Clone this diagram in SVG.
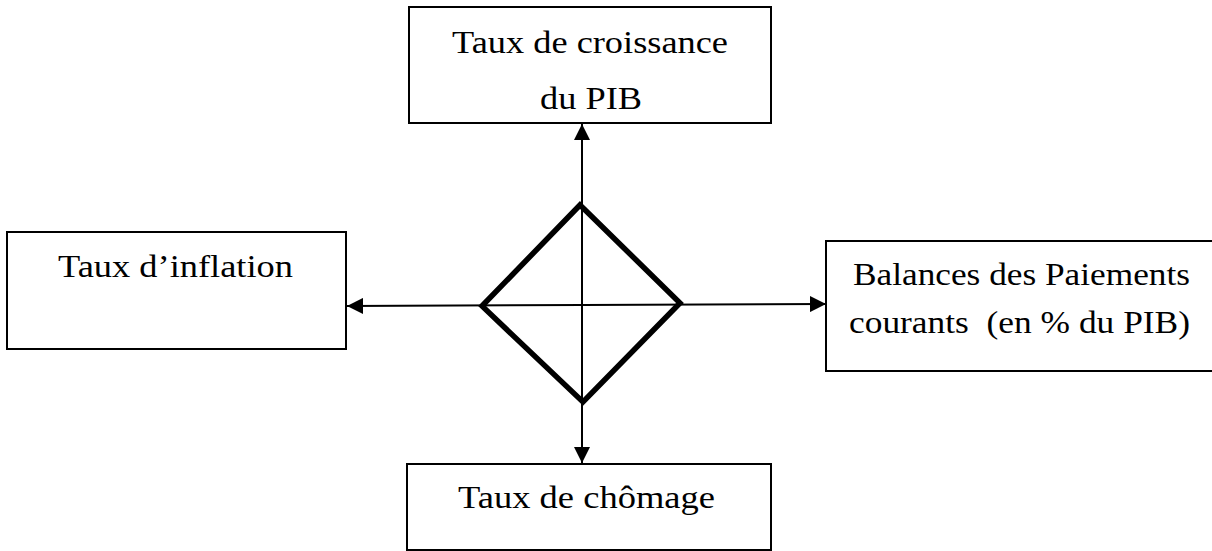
<svg xmlns="http://www.w3.org/2000/svg" width="1212" height="551" viewBox="0 0 1212 551">
  <style>
    .box { fill: #fff; stroke: #000; stroke-width: 2; }
    .lbl { font-family: "Liberation Serif", "Times New Roman", serif; font-size: 32px; fill: #000; text-anchor: middle; white-space: pre; }
    .conn { stroke: #000; stroke-width: 2; fill: none; }
    .diamond { fill: none; stroke: #000; stroke-width: 5.5; stroke-linejoin: miter; }
  </style>
  <defs>
    <marker id="arr" viewBox="0 0 16 16" refX="16" refY="8" markerWidth="16" markerHeight="16" markerUnits="userSpaceOnUse" orient="auto">
      <path d="M0,0 L16,8 L0,16 Z" fill="#000"/>
    </marker>
  </defs>
  <rect width="1212" height="551" fill="#fff"/>

  <g id="connectors">
    <line class="conn" x1="582" y1="305" x2="582" y2="124" marker-end="url(#arr)"/>
    <line class="conn" x1="582" y1="305" x2="582" y2="463" marker-end="url(#arr)"/>
    <line class="conn" x1="582" y1="305" x2="347" y2="306" marker-end="url(#arr)"/>
    <line class="conn" x1="582" y1="305" x2="826" y2="304" marker-end="url(#arr)"/>
  </g>

  <g id="diamond">
    <polygon class="diamond" points="580,205 680,303 583,402 482,306"/>
  </g>

  <g id="node-pib">
    <rect class="box" x="409" y="7" width="362" height="116"/>
    <text class="lbl" x="590" y="53" textLength="276" lengthAdjust="spacingAndGlyphs">Taux de croissance</text>
    <text class="lbl" x="591" y="109" textLength="102" lengthAdjust="spacingAndGlyphs">du PIB</text>
  </g>

  <g id="node-inflation">
    <rect class="box" x="7" y="232" width="339" height="117"/>
    <text class="lbl" x="175.5" y="277" textLength="235" lengthAdjust="spacingAndGlyphs">Taux d’inflation</text>
  </g>

  <g id="node-balance">
    <rect class="box" x="826" y="241" width="400" height="130"/>
    <text class="lbl" x="1021.5" y="285" textLength="337" lengthAdjust="spacingAndGlyphs">Balances des Paiements</text>
    <text class="lbl" x="1019.5" y="333" textLength="341" lengthAdjust="spacingAndGlyphs">courants  (en % du PIB)</text>
  </g>

  <g id="node-chomage">
    <rect class="box" x="407" y="464" width="364" height="86"/>
    <text class="lbl" x="586.5" y="508" textLength="257" lengthAdjust="spacingAndGlyphs">Taux de chômage</text>
  </g>
</svg>
